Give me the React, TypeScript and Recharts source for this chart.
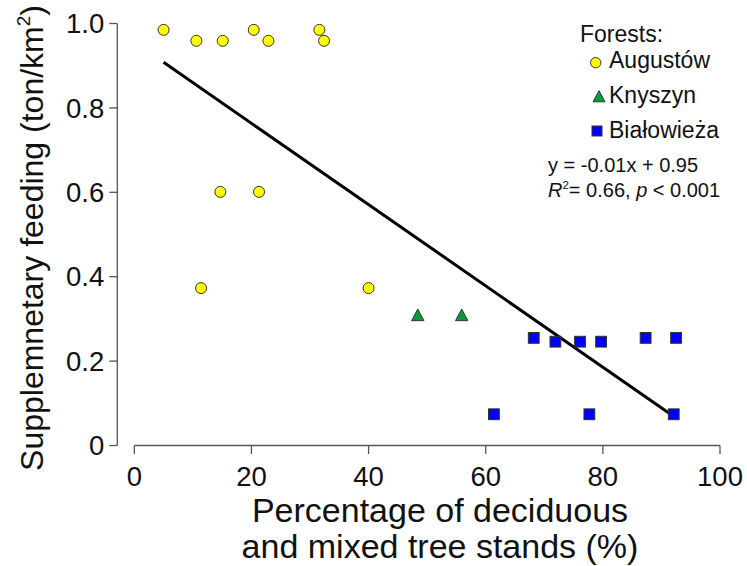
import React from 'react';
import { ScatterChart, Scatter, XAxis, YAxis, Legend, ReferenceLine } from 'recharts';

const augustowX = [5.0, 10.6, 15.1, 20.4, 22.9, 31.6, 32.4, 14.7, 21.3, 11.4, 40.0];
const augustowY = [0.985, 0.959, 0.959, 0.985, 0.959, 0.985, 0.959, 0.601, 0.601, 0.373, 0.373];
const knyszynX = [48.4, 55.9];
const knyszynY = [0.305, 0.305];
const bialowiezaX = [68.2, 71.9, 76.1, 79.7, 87.3, 92.5, 61.4, 77.7, 92.1];
const bialowiezaY = [0.255, 0.246, 0.246, 0.246, 0.255, 0.255, 0.074, 0.074, 0.074];
const fitX = [5, 92];
const fitY = [0.908, 0.07];
const xTicks = [0, 20, 40, 60, 80, 100];
const yTicks = [0, 0.2, 0.4, 0.6, 0.8, 1.0];
const seriesNames = ['Augustów', 'Knyszyn', 'Białowieża'];

const zip = (xs: number[], ys: number[]) => xs.map((x, i) => ({ x, y: ys[i] }));
const augustow = zip(augustowX, augustowY);
const knyszyn = zip(knyszynX, knyszynY);
const bialowieza = zip(bialowiezaX, bialowiezaY);
const fit = zip(fitX, fitY);

const FONT = '"Liberation Sans", Arial, Helvetica, sans-serif';
const AXIS = '#555';
const EDGE = '#333';

const Circle = (p: any) => (
  <circle cx={p.cx} cy={p.cy} r={5.5} fill="#FFFF00" stroke={EDGE} strokeWidth={1} />
);
const Triangle = (p: any) => {
  const { cx, cy } = p;
  const h = 11.7;
  const w = 6.2;
  return (
    <polygon
      points={`${cx},${cy - (2 * h) / 3} ${cx + w},${cy + h / 3} ${cx - w},${cy + h / 3}`}
      fill="#0A9A3C"
      stroke={EDGE}
      strokeWidth={1}
    />
  );
};
const Square = (p: any) => (
  <rect x={p.cx - 5.4} y={p.cy - 5.4} width={10.8} height={10.8} fill="#0000FF" stroke={EDGE} strokeWidth={1} />
);
const Nothing = () => null;

const legendIcons: Record<string, (cx: number, cy: number) => React.ReactNode> = {
  'Augustów': (cx, cy) => <circle cx={cx} cy={cy} r={5.2} fill="#FFFF00" stroke={EDGE} strokeWidth={1} />,
  'Knyszyn': (cx, cy) => (
    <polygon points={`${cx},${cy - 7.3} ${cx + 6},${cy + 3.8} ${cx - 6},${cy + 3.8}`} fill="#0A9A3C" stroke={EDGE} strokeWidth={1} />
  ),
  'Białowieża': (cx, cy) => <rect x={cx - 5} y={cy - 5} width={10} height={10} fill="#0000FF" stroke={EDGE} strokeWidth={1} />,
};

const LegendContent = (props: any) => {
  const payload = props.payload || [];
  const ordered = seriesNames
    .map((n) => payload.find((e: any) => e.value === n))
    .filter(Boolean);
  const iconX = [65.7, 69, 67];
  const iconY = [62.7, 98, 131];
  const textY = [68.3, 103, 138];
  return (
    <svg width={217} height={210} style={{ fontFamily: FONT, overflow: 'visible' }}>
      <text x={50} y={42} fontSize={23} fill="#111">Forests:</text>
      {ordered.map((e: any, i: number) => (
        <g key={e.value}>
          {legendIcons[e.value](iconX[i], iconY[i])}
          <text x={79} y={textY[i]} fontSize={23} fill="#111">{e.value}</text>
        </g>
      ))}
      <text x={18} y={172} fontSize={20} fill="#111">y = -0.01x + 0.95</text>
      <text x={18} y={197} fontSize={20} fill="#111">
        <tspan fontStyle="italic">R</tspan>
        <tspan fontSize={11.5} dy={-8.5}>2</tspan>
        <tspan dy={8.5}>= 0.66, </tspan>
        <tspan fontStyle="italic">p</tspan>
        <tspan> &lt; 0.001</tspan>
      </text>
    </svg>
  );
};

const YLabel = () => (
  <text
    transform="translate(43, 238) rotate(-90)"
    textAnchor="middle"
    fontSize={32}
    fill="#111"
    style={{ fontFamily: FONT }}
  >
    <tspan>Supplemnetary feeding (ton/km</tspan>
    <tspan fontSize={19} dy={-13}>2</tspan>
    <tspan dy={13}>)</tspan>
  </text>
);

const XLabel = () => (
  <text textAnchor="middle" fontSize={34} fill="#111" style={{ fontFamily: FONT }}>
    <tspan x={440} y={522}>Percentage of deciduous</tspan>
    <tspan x={440} y={558}>and mixed tree stands (%)</tspan>
  </text>
);

export default function App() {
  return (
    <div style={{ position: 'absolute', left: 0, top: 0, background: '#fff' }}>
      <ScatterChart
        width={747}
        height={566}
        margin={{ top: 23.5, right: 27, bottom: 60.5, left: 0 }}
        style={{ fontFamily: FONT }}
      >
        <XAxis
          type="number"
          dataKey="x"
          domain={[-2.9, 100]}
          ticks={xTicks}
          allowDataOverflow
          axisLine={false}
          tickLine={{ stroke: AXIS, strokeWidth: 1.3 }}
          tickSize={8.5}
          tickMargin={12}
          height={60}
          tick={{ fontSize: 27.5, fill: '#111', fontFamily: FONT }}
          tickFormatter={(v: number) => String(v)}
          interval={0}
          label={{ content: () => <XLabel /> }}
        />
        <YAxis
          type="number"
          dataKey="y"
          domain={[0, 1]}
          ticks={yTicks}
          allowDataOverflow
          axisLine={{ stroke: AXIS, strokeWidth: 1.3 }}
          tickLine={{ stroke: AXIS, strokeWidth: 1.3 }}
          tickSize={8}
          tickMargin={5}
          width={117.3}
          tick={{ fontSize: 27.5, fill: '#111', fontFamily: FONT }}
          tickFormatter={(v: number) => (v === 0 ? '0' : v.toFixed(1))}
          interval={0}
          label={{ content: () => <YLabel /> }}
        />
        <ReferenceLine
          segment={[
            { x: 0, y: 0 },
            { x: 100, y: 0 },
          ]}
          stroke={AXIS}
          strokeWidth={1.3}
          ifOverflow="visible"
        />
        <Scatter
          name="fit"
          data={fit}
          line={{ stroke: '#000', strokeWidth: 3 }}
          shape={Nothing}
          legendType="none"
          isAnimationActive={false}
        />
        <Scatter name={seriesNames[0]} data={augustow} fill="#FFFF00" shape={Circle} isAnimationActive={false} />
        <Scatter name={seriesNames[1]} data={knyszyn} fill="#0A9A3C" shape={Triangle} isAnimationActive={false} />
        <Scatter name={seriesNames[2]} data={bialowieza} fill="#0000FF" shape={Square} isAnimationActive={false} />
        <Legend
          layout="vertical"
          align="center"
          verticalAlign="middle"
          content={LegendContent}
          wrapperStyle={{ left: 530, top: 0, width: 217, height: 210 }}
        />
      </ScatterChart>
    </div>
  );
}
